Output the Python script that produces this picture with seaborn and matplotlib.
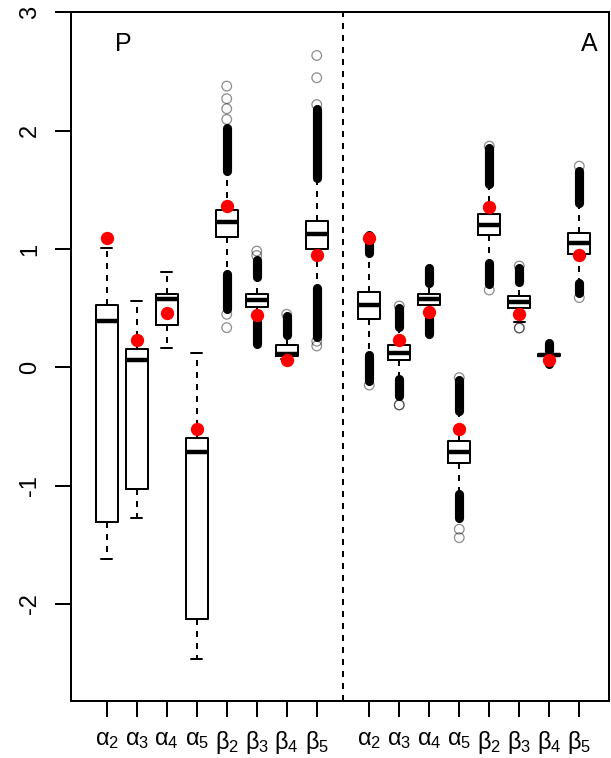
"""Posterior boxplots for the P and A fits, with true values in red."""

import matplotlib

matplotlib.use("Agg")
import matplotlib.pyplot as plt  # noqa: E402
import pandas as pd  # noqa: E402
import seaborn as sns  # noqa: E402

LABELS = ["α$_2$", "α$_3$", "α$_4$", "α$_5$", "β$_2$", "β$_3$", "β$_4$", "β$_5$"]

# P fit: summary of the posterior draws (whisker ends, quartiles, median)
P_LO = [-1.616, -1.275, 0.163, -2.466, 0.79, 0.38, 0.07, 0.67]
P_Q1 = [-1.307, -1.025, 0.36, -2.123, 1.10, 0.513, 0.096, 1.0025]
P_MED = [0.389, 0.062, 0.574, -0.72, 1.228, 0.568, 0.112, 1.123]
P_Q3 = [0.524, 0.152, 0.617, -0.594, 1.326, 0.617, 0.186, 1.236]
P_HI = [1.011, 0.56, 0.808, 0.124, 1.66, 0.76, 0.265, 1.59]
P_TRUE = [1.095, 0.228, 0.462, -0.524, 1.362, 0.439, 0.062, 0.946]
# dense runs of outliers (from, to) and isolated outliers
P_BANDS = [[], [], [], [], [(0.49, 0.79), (1.66, 2.02)], [(0.20, 0.38), (0.76, 0.91)],
           [(0.27, 0.43)], [(0.26, 0.67), (1.60, 2.18)]]
P_SPARSE = [[], [], [], [], [0.448, 0.335, 2.095, 2.185, 2.27, 2.376], [0.945, 0.982],
            [0.448], [0.22, 0.18, 2.22, 2.447, 2.635]]

# A fit
A_LO = [0.11, -0.10, 0.42, -1.073, 0.878, 0.386, 0.085, 0.715]
A_Q1 = [0.411, 0.062, 0.53, -0.813, 1.115, 0.498, 0.098, 0.954]
A_MED = [0.526, 0.124, 0.574, -0.712, 1.199, 0.552, 0.105, 1.047]
A_Q3 = [0.636, 0.186, 0.622, -0.622, 1.298, 0.602, 0.112, 1.137]
A_HI = [0.97, 0.34, 0.715, -0.37, 1.546, 0.72, 0.128, 1.39]
A_TRUE = [1.095, 0.228, 0.467, -0.518, 1.357, 0.448, 0.062, 0.949]
A_BANDS = [[(0.97, 1.12), (-0.12, 0.10)], [(0.34, 0.50), (-0.24, -0.10)], [(0.715, 0.842), (0.279, 0.42)],
           [(-0.37, -0.11), (-1.27, -1.073)], [(1.546, 1.85), (0.70, 0.878)], [(0.72, 0.84)],
           [(0.135, 0.205), (0.03, 0.08)], [(1.39, 1.66), (0.631, 0.715)]]
A_SPARSE = [[-0.15], [0.518, -0.318, -0.318], [], [-0.087, -1.368, -1.44], [1.869, 0.653],
            [0.856, 0.332, 0.332], [], [1.70, 0.589]]

sns.set_theme(style="ticks")
plt.rcParams.update({
    "font.family": ["Liberation Sans", "DejaVu Sans"],
    "mathtext.fontset": "custom",
    "mathtext.rm": "Liberation Sans",
    "mathtext.it": "Liberation Sans:italic",
    "mathtext.bf": "Liberation Sans:bold",
    "axes.unicode_minus": False,
    "text.color": "black",
    "xtick.color": "black",
    "ytick.color": "black",
    "xtick.labelcolor": "black",
    "ytick.labelcolor": "black",
})

GAP = 8.75  # offset of the A block
LW = 1.44
DASH = (0, (3.0, 3.0))

fig = plt.figure(figsize=(6.11, 7.58), dpi=100)
ax = fig.add_axes([0.1157, 0.0752, 0.9972 - 0.1157, 0.9838 - 0.0752])

stats, positions, bands, sparse, truth = [], [], [], [], []
hide_lo, hide_hi = [], []
for off, lo, q1, med, q3, hi, tr, bd, sp in [
    (0, P_LO, P_Q1, P_MED, P_Q3, P_HI, P_TRUE, P_BANDS, P_SPARSE),
    (GAP, A_LO, A_Q1, A_MED, A_Q3, A_HI, A_TRUE, A_BANDS, A_SPARSE),
]:
    for i in range(len(LABELS)):
        stats.append({"whislo": lo[i], "q1": q1[i], "med": med[i], "q3": q3[i], "whishi": hi[i], "fliers": []})
        x = 1 + i + off
        positions.append(x)
        truth.append((x, tr[i]))
        bands += [(x, a, b) for a, b in bd[i]]
        sparse += [(x, v) for v in sp[i]]
        # staples sit under a run of outliers when one touches the whisker end
        hide_lo.append(any(b <= q1[i] and abs(b - lo[i]) < 0.03 for a, b in bd[i]))
        hide_hi.append(any(a >= q3[i] and abs(a - hi[i]) < 0.03 for a, b in bd[i]))

art = ax.bxp(
    stats,
    positions=positions,
    widths=0.73,
    capwidths=0.38,
    showfliers=False,
    boxprops={"color": "black", "lw": LW},
    medianprops={"color": "black", "lw": 3.2, "solid_capstyle": "butt"},
    whiskerprops={"color": "black", "lw": LW, "linestyle": DASH},
    capprops={"color": "black", "lw": LW},
)
for k in range(len(positions)):
    art["caps"][2 * k].set_visible(not hide_lo[k])
    art["caps"][2 * k + 1].set_visible(not hide_hi[k])

# dense outlier runs: overlapping open circles read as a solid column
bx = pd.DataFrame(bands, columns=["pos", "lo", "hi"])
ax.vlines(bx.pos, bx.lo, bx.hi, color="black", lw=6.6, capstyle="round", zorder=3)

sp = pd.DataFrame(sparse, columns=["pos", "val"])
sns.scatterplot(data=sp, x="pos", y="val", color="black", s=48, linewidth=0.9, ax=ax, zorder=3)
ax.collections[-1].set_facecolor("none")
ax.collections[-1].set_edgecolor((0, 0, 0, 0.45))

tr = pd.DataFrame(truth, columns=["pos", "val"])
sns.scatterplot(data=tr, x="pos", y="val", color="red", s=92, linewidth=0, ax=ax, zorder=5)

ax.axvline((9 + GAP) / 2, color="black", lw=LW, linestyle=DASH, zorder=1)

ax.text(1.55, 2.676, "P", ha="center", va="baseline", fontsize=18, color="black")
ax.text(17.07, 2.676, "A", ha="center", va="baseline", fontsize=18, color="black")

ax.set_xlim(-0.2, 17.75)
ax.set_ylim(-2.82, 3.0)
ax.set_xticks(positions, LABELS * 2)
ax.set_yticks(range(-2, 4))
ax.set_xlabel("")
ax.set_ylabel("")
for s in ax.spines.values():
    s.set_visible(True)
    s.set_linewidth(LW)
    s.set_color("black")
ax.tick_params(axis="both", direction="out", length=11.3, width=LW, color="black",
               labelcolor="black", labelsize=17)
ax.tick_params(axis="x", pad=9)
ax.tick_params(axis="y", pad=10, labelrotation=90)
for lab in ax.get_yticklabels():
    lab.set_va("center")

fig.savefig("out.png", dpi=100)
